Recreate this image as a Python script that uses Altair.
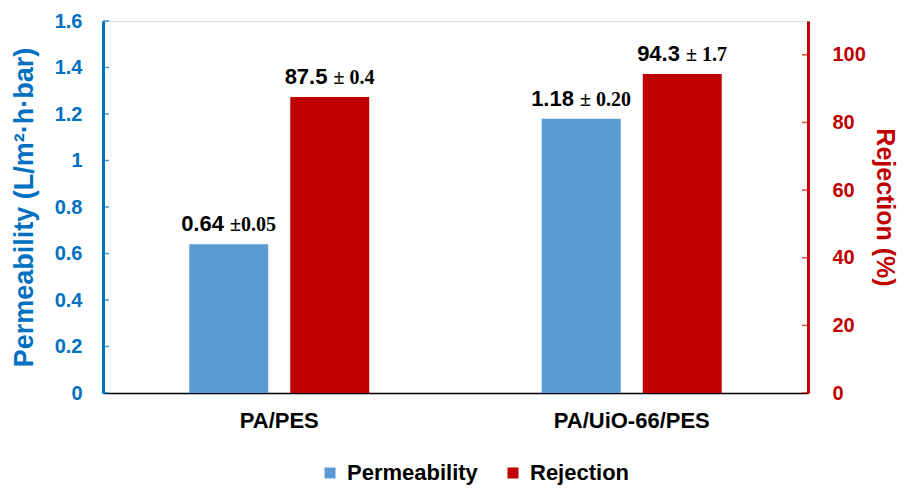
import altair as alt
import pandas as pd

categories = ["PA/PES", "PA/UiO-66/PES"]
series_names = ["Permeability", "Rejection"]
permeability = [0.64, 1.18]
perm_err = ["±0.05", "± 0.20"]
rejection = [87.5, 94.3]
rej_err = ["± 0.4", "± 1.7"]
perm_ticks = [0, 0.2, 0.4, 0.6, 0.8, 1.0, 1.2, 1.4, 1.6]
rej_ticks = [0, 20, 40, 60, 80, 100]

BLUE_BAR = "#5B9BD5"
RED_BAR = "#C00000"
BLUE_AX = "#0070C0"
RED_AX = "#C00000"
SANS = "Liberation Sans"
SERIF = "Liberation Serif"
W, H = 705, 372

perm_df = pd.DataFrame({"cat": categories, "series": "Permeability", "value": permeability,
                        "num": [f"{v:.2f}" for v in permeability], "err": perm_err})
rej_df = pd.DataFrame({"cat": categories, "series": "Rejection", "value": rejection,
                       "num": [f"{v:.1f}" for v in rejection], "err": rej_err})

x_enc = alt.X("cat:N", sort=categories, title=None,
              scale=alt.Scale(paddingInner=0, paddingOuter=0),
              axis=alt.Axis(labelFont=SANS, labelFontSize=22, labelFontWeight="bold",
                            labelColor="black", ticks=False, domainColor="black",
                            domainWidth=1.5, labelPadding=17, labelAngle=0))
xo_enc = alt.XOffset("series:N", scale=alt.Scale(domain=series_names, paddingInner=0.218,
                                                 paddingOuter=0.854))
color_enc = alt.Color("series:N", scale=alt.Scale(domain=series_names, range=[BLUE_BAR, RED_BAR]),
                      legend=alt.Legend(orient="none", legendX=216, legendY=441,
                                        direction="horizontal", title=None,
                                        labelFont=SANS, labelFontSize=22, labelFontWeight="bold",
                                        labelColor="black", symbolType="square", symbolSize=121,
                                        symbolStrokeWidth=0, labelOffset=6, columnPadding=24,
                                        padding=0))

label_expr = "datum.value == 1 ? '1' : format(datum.value, '.1~f')"
perm_axis = alt.Axis(orient="left", values=perm_ticks, ticks=False, grid=False,
                     labelExpr=label_expr,
                     labelFont=SANS, labelFontSize=20, labelFontWeight="bold", labelColor=BLUE_AX,
                     labelPadding=21, domainColor=BLUE_AX, domainWidth=3,
                     title="Permeability (L/m²·h·bar)", titleFont=SANS, titleFontSize=27,
                     titleFontWeight="bold", titleColor=BLUE_AX, titlePadding=16)
rej_axis = alt.Axis(orient="right", values=rej_ticks, ticks=False, grid=False,
                    labelFont=SANS, labelFontSize=20, labelFontWeight="bold", labelColor=RED_AX,
                    labelPadding=24, domainColor=RED_AX, domainWidth=3,
                    title="Rejection (%)", titleFont=SANS, titleFontSize=25,
                    titleFontWeight="bold", titleColor=RED_AX, titlePadding=6, titleAngle=90)

y_perm = alt.Y("value:Q", scale=alt.Scale(domain=[0, 1.6], nice=False), axis=perm_axis)
y_rej = alt.Y("value:Q", scale=alt.Scale(domain=[0, 110], nice=False), axis=rej_axis)

# approximate glyph widths (em) for centring the two-font labels
SANS_W = {".": .278}
SERIF_W = {"±": .570, " ": .25, ".": .25}
NUM_FS, ERR_FS, GAP = 22, 20, 6


def text_layers(df, y_enc):
    layers = []
    for i in range(len(df)):
        row = df.iloc[[i]]
        wn = sum(SANS_W.get(c, .556) for c in row["num"].iloc[0]) * NUM_FS
        we = sum(SERIF_W.get(c, .5) for c in row["err"].iloc[0]) * ERR_FS
        total = wn + GAP + we
        end = -total / 2 + wn
        base = alt.Chart(row)
        layers.append(base.mark_text(font=SANS, fontSize=NUM_FS, fontWeight="bold", color="black",
                                     align="right", baseline="alphabetic", dx=end, dy=-13)
                      .encode(x=x_enc, xOffset=xo_enc, y=y_enc, text="num:N"))
        layers.append(base.mark_text(font=SERIF, fontSize=ERR_FS, fontWeight="bold", color="black",
                                     align="left", baseline="alphabetic", dx=end + GAP, dy=-13)
                      .encode(x=x_enc, xOffset=xo_enc, y=y_enc, text="err:N"))
    return layers


perm_bars = alt.Chart(perm_df).mark_bar().encode(x=x_enc, xOffset=xo_enc, y=y_perm, color=color_enc)
rej_bars = alt.Chart(rej_df).mark_bar().encode(x=x_enc, xOffset=xo_enc, y=y_rej, color=color_enc)

perm_tick_marks = alt.Chart(pd.DataFrame({"value": perm_ticks})).mark_tick(
    color=BLUE_AX, thickness=1.5, size=6, orient="horizontal").encode(y=y_perm, x=alt.value(3))
rej_tick_marks = alt.Chart(pd.DataFrame({"value": rej_ticks})).mark_tick(
    color=RED_AX, thickness=1.5, size=6, orient="horizontal").encode(y=y_rej, x=alt.value(W - 3))

perm_layer = alt.layer(perm_bars, perm_tick_marks, *text_layers(perm_df, y_perm))
rej_layer = alt.layer(rej_bars, rej_tick_marks, *text_layers(rej_df, y_rej))

chart = alt.layer(perm_layer, rej_layer).resolve_scale(y="independent").properties(
    width=W, height=H,
    padding={"left": 95, "top": 13, "right": 91, "bottom": 97},
    autosize=alt.AutoSizeParams(type="none"),
).configure_view(stroke="black", strokeWidth=1.5).configure(background="white")

chart.save("out.html", embed_options={"renderer": "svg", "actions": False})
